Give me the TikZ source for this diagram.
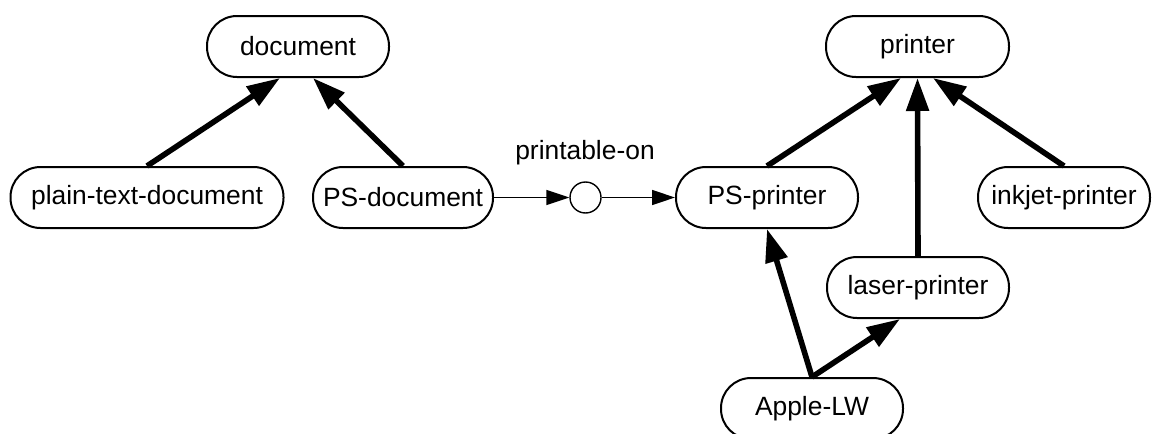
\documentclass[tikz,border=0pt]{standalone}
\usepackage{fontspec}
\setmainfont{Liberation Sans}
\usetikzlibrary{arrows.meta,calc}
\begin{document}
\begin{tikzpicture}[x=1pt,y=-1pt,
  box/.style={draw, line width=2pt, rounded corners=30pt, minimum height=61pt,
    inner sep=0pt, font=\fontsize{26.4}{30}\selectfont},
  isa/.style={line width=5.6pt, -{Triangle[length=33pt,width=22pt]}},
  rel/.style={line width=1.4pt, -{Triangle[length=23pt,width=15pt]}},
  lbl/.style={font=\fontsize{26.4}{30}\selectfont, inner sep=0pt}]
\clip (0,0) rectangle (1152,434);

% concept nodes
\node[box, minimum width=182pt] (doc)   at (298,46.5)   {document};
\node[box, minimum width=273pt] (plain) at (147,197.5)  {plain-text-document};
\node[box, minimum width=180pt] (psdoc) at (403,197.5)  {PS-document};
\node[box, minimum width=183pt] (prn)   at (917.5,46.5) {printer};
\node[box, minimum width=182pt] (psp)   at (767,197.5)  {PS-printer};
\node[box, minimum width=172pt] (ink)   at (1064,197.5) {inkjet-printer};
\node[box, minimum width=182pt] (laser) at (918,287.5)  {laser-printer};
\node[box, minimum width=182pt] (apple) at (812,408.5)  {Apple-LW};

% relation node
\node[circle, draw, line width=1.4pt, minimum size=31pt, inner sep=0pt] (rel) at (585.5,197.5) {};
\node[lbl] (relname) at (585,153) {printable-on};

% subtype links
\draw[isa] (plain.north) -- ($(doc.south)+(-18,0)$);
\draw[isa] (psdoc.north) -- ($(doc.south)+(15,0)$);
\draw[isa] (psp.north)   -- ($(prn.south)+(-16.5,0)$);
\draw[isa] (laser.north) -- (prn.south);
\draw[isa] (ink.north)   -- ($(prn.south)+(15.5,0)$);
\draw[isa] (apple.north) -- (psp.south);
\draw[isa] (apple.north) -- ($(laser.south)+(-18,0)$);

% relation links
\draw[rel] (psdoc.east) -- (rel.west);
\draw[rel] (rel.east) -- (psp.west);
\end{tikzpicture}
\end{document}
